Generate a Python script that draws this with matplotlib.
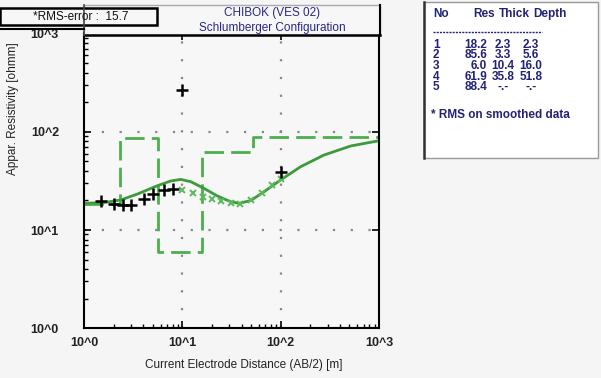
import numpy as np
import matplotlib
matplotlib.use('Agg')
import matplotlib.pyplot as plt
from matplotlib.lines import Line2D
from matplotlib.patches import Rectangle
from matplotlib.ticker import LogLocator, NullFormatter

plt.rcParams['font.family'] = ['Liberation Sans', 'DejaVu Sans']

# layered model (table on the right)
layer_no = [1, 2, 3, 4, 5]
layer_res = [18.2, 85.6, 6.0, 61.9, 88.4]
layer_thick = ['2.3', '3.3', '10.4', '35.8', '-.-']
layer_depth = ['2.3', '5.6', '16.0', '51.8', '-.-']
step_x = [1.0, 2.3, 5.6, 16.0, 51.8, 1000.0]
step_y = [18.2, 85.6, 6.0, 61.9, 88.4, 88.4]

# field data
obs_ab2 = [1.5, 2.0, 2.5, 3.0, 4.1, 5.0, 6.5, 8.1, 10.0, 100.0]
obs_rho = [19.9, 18.4, 17.9, 17.9, 20.5, 23.2, 25.5, 26.1, 265.0, 38.6]

# smoothed data
sm_ab2 = [10.0, 12.9, 16.2, 20.2, 25.0, 31.0, 39.0, 49.5, 65.0, 82.0, 100.0]
sm_rho = [25.5, 23.6, 21.5, 20.5, 19.7, 18.7, 18.4, 20.2, 23.6, 28.7, 33.0]

# calculated curve
fit_ab2 = [1.0, 1.6, 2.36, 3.49, 5.57, 7.62, 9.61, 12.2, 16.6, 22.7, 31.0,
           37.8, 49.5, 67.8, 100.0, 160.0, 276.0, 516.0, 1000.0]
fit_rho = [18.7, 19.0, 20.2, 23.2, 28.2, 31.5, 32.7, 31.0, 26.5, 22.2, 19.4,
           18.7, 19.9, 24.5, 32.3, 44.1, 57.9, 71.6, 80.9]

dec_labels = ['10^0', '10^1', '10^2', '10^3']

W, H = 601, 378
fig = plt.figure(figsize=(W / 100, H / 100), dpi=100, facecolor='#f5f5f5')


def px(x, y):
    return x / W, 1 - y / H


ax = fig.add_axes([84 / W, 1 - 328.3 / H, 295 / W, 294.9 / H])
ax.set_facecolor('#f7f7f7')
ax.set_xscale('log')
ax.set_yscale('log')
ax.set_xlim(1, 1000)
ax.set_ylim(1, 1000)

green = '#3d9b3d'
ax.step(step_x, step_y, where='post', color='#4caf4c', lw=2, ls=(0, (7, 2.6)))
ax.plot(fit_ab2, fit_rho, color=green, lw=2)
ax.plot(sm_ab2, sm_rho, ls='none', marker='x', ms=5, mew=1.4, color='#5bb85b')
ax.plot(obs_ab2, obs_rho, ls='none', marker='+', ms=8, mew=1.8, color='black')

for v in [10, 100]:
    ax.axvline(v, color='#888888', lw=1.6, ls=(0, (1, 7)), zorder=0)
    ax.axhline(v, color='#888888', lw=1.6, ls=(0, (1, 7)), zorder=0)

ax.set_xticks([1, 10, 100, 1000], dec_labels)
ax.set_yticks([1, 10, 100, 1000], dec_labels)
ax.xaxis.set_minor_locator(LogLocator(base=10, subs=np.arange(2, 10)))
ax.yaxis.set_minor_locator(LogLocator(base=10, subs=np.arange(2, 10)))
ax.xaxis.set_minor_formatter(NullFormatter())
ax.yaxis.set_minor_formatter(NullFormatter())
ax.tick_params(which='major', direction='in', length=5, width=1.2,
               top=True, right=True, labelsize=9)
ax.tick_params(which='minor', direction='in', length=3, width=1)
ax.tick_params(axis='y', which='major', pad=18)
ax.tick_params(axis='x', which='major', pad=6)
for lab in ax.get_xticklabels() + ax.get_yticklabels():
    lab.set_fontweight('bold')
    lab.set_color('#222222')
for s in ax.spines.values():
    s.set_linewidth(1.5)

ax.set_xlabel('Current Electrode Distance (AB/2) [m]', fontsize=8.5, color='#222222')
ax.xaxis.set_label_coords(0.54, -0.105)
ax.set_ylabel('Appar. Resistivity [ohmm]', fontsize=8.5, color='#222222')
ax.yaxis.set_label_coords(-0.22, 0.745)

# header boxes
x0, y0 = px(84, 35)
fig.add_artist(Rectangle((x0, y0), 296 / W, 30 / H, transform=fig.transFigure,
                         facecolor='#f7f7f7', edgecolor='#aaaaaa', lw=1))
fig.add_artist(Line2D([84 / W, 380 / W], [1 - 35 / H] * 2, transform=fig.transFigure,
                      color='black', lw=1.8))
fig.add_artist(Line2D([380 / W] * 2, [1 - 5 / H, 1 - 35 / H], transform=fig.transFigure,
                      color='black', lw=1.5))
fig.add_artist(Line2D([84 / W] * 2, [1 - 5 / H, 1 - 35 / H], transform=fig.transFigure,
                      color='#444444', lw=1.2))
fig.add_artist(Line2D([0, 84 / W], [1 - 29 / H] * 2, transform=fig.transFigure,
                      color='black', lw=1.5))
rx, ry = px(0, 25)
fig.add_artist(Rectangle((rx, ry), 157 / W, 17 / H, transform=fig.transFigure,
                         facecolor='#f7f7f7', edgecolor='black', lw=1.8))
fig.text(*px(81, 16.5), '*RMS-error :  15.7', ha='center', va='center',
         fontsize=8.5, color='#111111')
navy = '#27278a'
fig.text(*px(272, 13), 'CHIBOK (VES 02)', ha='center', va='center',
         fontsize=8.5, color=navy)
fig.text(*px(272, 28), 'Schlumberger Configuration', ha='center', va='center',
         fontsize=8.5, color=navy)

# layer table
tx, ty = px(424, 158)
fig.add_artist(Rectangle((tx, ty), 174 / W, 156 / H, transform=fig.transFigure,
                         facecolor='white', edgecolor='#999999', lw=1))
fig.add_artist(Line2D([424 / W] * 2, [1 - 2 / H, 1 - 158 / H], transform=fig.transFigure,
                      color='#333333', lw=1.8))
tcol = '#222277'
kw = dict(fontsize=8.5, color=tcol, fontweight='bold', va='center')
fig.text(*px(433, 14), 'No', ha='left', **kw)
fig.text(*px(484, 14), 'Res', ha='center', **kw)
fig.text(*px(514, 14), 'Thick', ha='center', **kw)
fig.text(*px(550, 14), 'Depth', ha='center', **kw)
fig.add_artist(Line2D([433 / W, 542 / W], [1 - 32 / H] * 2, transform=fig.transFigure,
                      color=tcol, lw=1, ls=(0, (1.5, 0.8))))
for i in range(len(layer_no)):
    yy = 45 + i * 10.5
    fig.text(*px(433, yy), str(layer_no[i]), ha='left', **kw)
    fig.text(*px(487, yy), '%.1f' % layer_res[i], ha='right', **kw)
    fig.text(*px(503, yy), layer_thick[i], ha='center', **kw)
    fig.text(*px(531, yy), layer_depth[i], ha='center', **kw)
fig.text(*px(431, 115), '* RMS on smoothed data', ha='left', **kw)

fig.savefig('out.png', dpi=100, facecolor=fig.get_facecolor())
